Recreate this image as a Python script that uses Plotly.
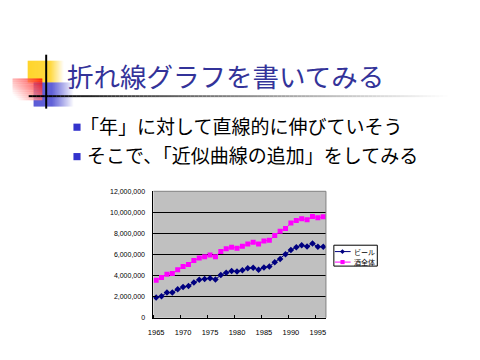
import plotly.graph_objects as go

years = list(range(1965, 1997))
beer = [1.92, 2.05, 2.39, 2.39, 2.70, 2.91, 3.01, 3.35, 3.60, 3.69, 3.75, 3.63,
        4.06, 4.28, 4.43, 4.40, 4.50, 4.71, 4.74, 4.56, 4.78, 4.87, 5.27, 5.58,
        6.02, 6.42, 6.70, 6.88, 6.76, 7.04, 6.73, 6.73]
total = [3.57, 3.81, 4.12, 4.19, 4.56, 4.87, 5.05, 5.43, 5.67, 5.80, 5.95, 5.80,
         6.29, 6.54, 6.70, 6.60, 6.79, 7.01, 7.16, 7.01, 7.29, 7.35, 7.81, 8.22,
         8.47, 8.99, 9.24, 9.40, 9.30, 9.61, 9.49, 9.58]
beer = [v * 1e6 for v in beer]
total = [v * 1e6 for v in total]
series_names = ["ビール", "酒全体"]
x_ticks = [1965, 1970, 1975, 1980, 1985, 1990, 1995]
y_ticks = [0, 2e6, 4e6, 6e6, 8e6, 10e6, 12e6]
y_labels = ["0", "2,000,000", "4,000,000", "6,000,000", "8,000,000", "10,000,000", "12,000,000"]

title_text = "折れ線グラフを書いてみる"
bullets = ["「年」に対して直線的に伸びていそう", "そこで、「近似曲線の追加」をしてみる"]

NAVY = "#000080"
MAGENTA = "#FF00FF"

W, H = 480, 360
def px(x):
    return x / W
def py(y):
    return 1 - y / H

fig = go.Figure()
fig.add_trace(go.Scatter(x=years, y=beer, name=series_names[0], mode="lines+markers",
                         line=dict(color=NAVY, width=1),
                         marker=dict(symbol="diamond", size=5, color=NAVY)))
fig.add_trace(go.Scatter(x=years, y=total, name=series_names[1], mode="lines+markers",
                         line=dict(color=MAGENTA, width=1),
                         marker=dict(symbol="square", size=5, color=MAGENTA)))

shapes = []

def rect(x0, y0, x1, y1, color, line=None, layer="above"):
    shapes.append(dict(type="rect", xref="paper", yref="paper",
                       x0=px(x0), x1=px(x1), y0=py(y1), y1=py(y0),
                       fillcolor=color, line=line or dict(width=0), layer=layer))

def mix(c, t):
    r, g, b = c
    return "rgb(%d,%d,%d)" % (r + (255 - r) * t, g + (255 - g) * t, b + (255 - b) * t)

# yellow square
for i in range(36):
    x0 = 22 + i
    t = 0 if x0 < 44 else min(1, (x0 - 44) / 14)
    rect(x0, 58, x0 + 1.05, 80, mix((255, 204, 0), t))
# blue square
for i in range(40):
    x0 = 28 + i
    t = 0 if x0 < 46 else min(1, (x0 - 46) / 22)
    rect(x0, 80, x0 + 1.05, 104.5, mix((51, 51, 204), t))
# red rectangle with diagonal fade
for i in range(30):
    for j in range(11):
        x0 = 6.7 + i
        y0 = 76 + j * 2
        tx = 1 - i / 29
        ty = j / 10
        t = min(1, 0.65 * tx + 0.45 * ty)
        rect(x0, y0, x0 + 1.05, y0 + 2.05, mix((255, 0, 0), t))
# black vertical line
rect(39.7, 51.7, 41.7, 106.7, "black")
# horizontal line with gradient
for i in range(106):
    x0 = 23 + i * 4
    t = min(1, max(0, (x0 - 40) / 405)) ** 0.85
    rect(x0, 93, x0 + 4.1, 95, mix((0, 0, 0), t))

# bullets
for yy in (122, 152):
    rect(68.3, yy, 75.5, yy + 7.3, "#3333CC")

# plot border top/right in gray
shapes.append(dict(type="line", xref="x domain", yref="y domain", x0=0, x1=1, y0=1, y1=1,
                   line=dict(color="#808080", width=1), layer="above"))
shapes.append(dict(type="line", xref="x domain", yref="y domain", x0=1, x1=1, y0=0, y1=1,
                   line=dict(color="#808080", width=1), layer="above"))

# legend (drawn as box with samples)
rect(332, 246, 376, 267.3, "white", line=dict(color="black", width=1))
legend_rows = [(252.5, NAVY, "diamond"), (263.2, MAGENTA, "square")]
annotations = []
for (ly, col, sym), name in zip(legend_rows, series_names):
    shapes.append(dict(type="line", xref="paper", yref="paper",
                       x0=px(333), x1=px(349), y0=py(ly), y1=py(ly),
                       line=dict(color=col, width=1)))
    if sym == "square":
        rect(338.7, ly - 2.1, 342.9, ly + 2.1, col)
    else:
        cx, cy = 340.7, ly
        path = "M %f %f L %f %f L %f %f L %f %f Z" % (
            px(cx - 2.5), py(cy), px(cx), py(cy - 2.5), px(cx + 2.5), py(cy), px(cx), py(cy + 2.5))
        shapes.append(dict(type="path", xref="paper", yref="paper", path=path,
                           fillcolor=col, line=dict(width=0)))
    annotations.append(dict(text=name, x=px(350), y=py(ly), xref="paper", yref="paper",
                            xanchor="left", yanchor="middle", showarrow=False,
                            font=dict(family="Noto Sans CJK JP", size=7, color="black")))

annotations.append(dict(text=title_text, x=px(60), y=py(72.5), xref="paper", yref="paper",
                        xanchor="left", yanchor="middle", showarrow=False,
                        font=dict(family="Noto Sans CJK JP", size=26.5, color="#333399")))
bullet_x = [73, 80]
for k, txt in enumerate(bullets):
    annotations.append(dict(text=txt, x=px(bullet_x[k]), y=py(123.5 + 30 * k), xref="paper", yref="paper",
                            xanchor="left", yanchor="middle", showarrow=False,
                            font=dict(family="Noto Sans CJK JP", size=19, color="black")))

fig.update_layout(
    width=W, height=H, margin=dict(l=0, r=0, t=0, b=0),
    paper_bgcolor="white", plot_bgcolor="#C0C0C0",
    shapes=shapes, annotations=annotations,
    showlegend=False,
    xaxis=dict(domain=[px(149.3), px(324)], range=[1964.5, 1996.5],
               tickvals=x_ticks, ticktext=[str(v) for v in x_ticks],
               ticks="", showgrid=False, zeroline=False,
               showline=True, linecolor="black", linewidth=1,
               tickfont=dict(family="Liberation Sans", size=7.5, color="black"),
               ticklabelstandoff=7,
               minor=dict(tick0=1964.5, dtick=5, ticks="inside", ticklen=3,
                          tickcolor="black", showgrid=False)),
    yaxis=dict(domain=[py(320), py(191)], range=[0, 12e6],
               tickvals=y_ticks, ticktext=y_labels,
               ticks="inside", ticklen=3, tickcolor="black",
               showgrid=True, gridcolor="black", gridwidth=1, zeroline=False,
               showline=True, linecolor="black", linewidth=1,
               tickfont=dict(family="Liberation Sans", size=7, color="black"),
               ticklabelstandoff=6),
)

fig.write_html("out.html", config={"displayModeBar": False},
               post_script="document.body.style.margin='0';document.body.style.overflow='hidden';")
